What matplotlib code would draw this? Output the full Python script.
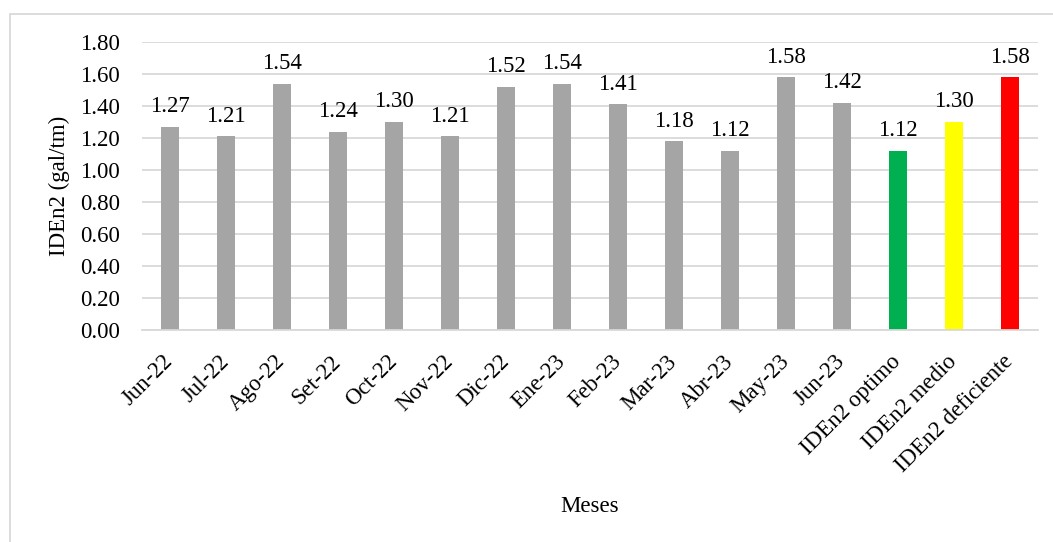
import matplotlib.pyplot as plt
from matplotlib.patches import Rectangle

# IDEn2 mensual y niveles de referencia
meses = ['Jun-22', 'Jul-22', 'Ago-22', 'Set-22', 'Oct-22', 'Nov-22', 'Dic-22',
         'Ene-23', 'Feb-23', 'Mar-23', 'Abr-23', 'May-23', 'Jun-23',
         'IDEn2 optimo', 'IDEn2 medio', 'IDEn2 deficiente']
iden2 = [1.27, 1.21, 1.54, 1.24, 1.30, 1.21, 1.52,
         1.54, 1.41, 1.18, 1.12, 1.58, 1.42,
         1.12, 1.30, 1.58]
colores = ['#A5A5A5'] * 13 + ['#00B050', '#FFFF00', '#FF0000']

plt.rcParams['font.family'] = ['Liberation Serif', 'DejaVu Serif']
fs = 16.5

fig = plt.figure(figsize=(10.53, 5.42), dpi=100)
ax = fig.add_axes([142 / 1053, 212 / 542, 896 / 1053, 288 / 542])

x = range(len(meses))
ax.bar(x, iden2, width=0.32, color=colores, zorder=2)

for i, v in zip(x, iden2):
    ax.annotate(f'{v:.2f}', (i, v), xytext=(0, 10.5), textcoords='offset points',
                ha='center', va='baseline', fontsize=fs)

ax.set_xlim(-0.5, len(meses) - 0.5)
ax.set_ylim(0, 1.8)
ax.set_yticks([i * 0.2 for i in range(10)])
ax.set_yticklabels([f'{i * 0.2:.2f}' for i in range(10)], fontsize=fs)
ax.set_xticks(list(x))
ax.set_xticklabels(meses, fontsize=fs, rotation=45, ha='right', va='center',
                   rotation_mode='anchor')

ax.tick_params(axis='y', length=0, pad=16)
ax.tick_params(axis='x', length=0, pad=20.5)
ax.grid(axis='y', color='#D9D9D9', linewidth=1.3, zorder=0)
ax.set_axisbelow(True)
for s in ['top', 'right', 'left']:
    ax.spines[s].set_visible(False)
ax.spines['bottom'].set_color('#D9D9D9')
ax.spines['bottom'].set_linewidth(1.3)

ax.set_ylabel('IDEn2 (gal/tm)', fontsize=fs)
ax.yaxis.set_label_coords(-0.080, 0.5)
ax.set_xlabel('Meses', fontsize=fs)
ax.xaxis.set_label_coords(0.5, -0.612)
ax.xaxis.label.set_va('center')

# marco del gráfico
fig.add_artist(Rectangle((10 / 1053, -0.1), 1.2, 0.1 + 1 - 14 / 542,
                         transform=fig.transFigure, fill=False,
                         edgecolor='#D9D9D9', linewidth=1.3))

fig.savefig('out.png', dpi=100)
